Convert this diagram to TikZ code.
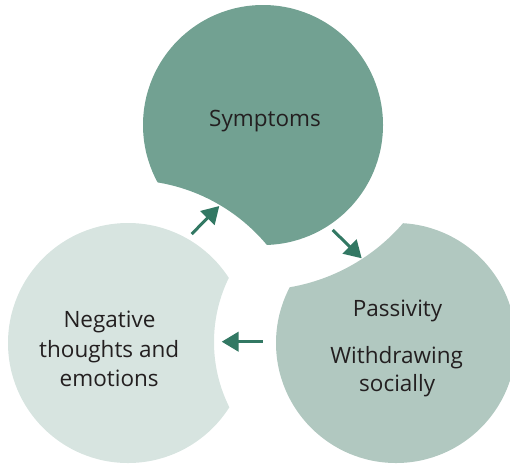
\documentclass[tikz,border=0pt]{standalone}
\usepackage{fontspec}
\setmainfont{Open Sans}
\usetikzlibrary{arrows.meta}
\definecolor{symfill}{HTML}{72A192}
\definecolor{passfill}{HTML}{B1C8C0}
\definecolor{negfill}{HTML}{D7E4E0}
\definecolor{arrowc}{HTML}{327863}
\definecolor{textc}{HTML}{231F20}
\tikzset{
  label/.style={anchor=base, inner sep=0pt, text=textc,
    font=\fontsize{22.5}{28}\selectfont},
  cyclearrow/.style={draw=arrowc, line width=3pt,
    -{Triangle[length=17pt,width=19.5pt]}},
}
\begin{document}
\begin{tikzpicture}[x=1pt,y=-1pt]
\useasboundingbox (0,0) rectangle (510,464);
\clip (0,0) rectangle (510,464);
% circle centres and the larger discs that carve each neighbour
\coordinate (T) at (263,125);
\coordinate (L) at (128,343);
\coordinate (R) at (396,343);
\coordinate (cutT) at (128,361);  % carves the top circle
\coordinate (cutL) at (360,342);  % carves the left circle
\coordinate (cutR) at (257,97);   % carves the right circle
% top circle
\begin{scope}[even odd rule]
  \clip (-20,-20) rectangle (530,484) (cutT) circle (181pt);
  \fill[symfill] (T) circle (120pt);
\end{scope}
% left circle
\begin{scope}[even odd rule]
  \clip (-20,-20) rectangle (530,484) (cutL) circle (146pt);
  \fill[negfill] (L) circle (120pt);
\end{scope}
% right circle
\begin{scope}[even odd rule]
  \clip (-20,-20) rectangle (530,484) (cutR) circle (193pt);
  \fill[passfill] (R) circle (120pt);
\end{scope}
% labels
\node[label] (sym) at (265,126.7) {Symptoms};
\node[label] (neg1) at (109.5,327.7) {Negative};
\node[label] (neg2) at (109.2,357.3) {thoughts and};
\node[label] (neg3) at (109.2,386) {emotions};
\node[label] (pas1) at (397.5,316.7) {Passivity};
\node[label] (pas2) at (396.7,363) {Withdrawing};
\node[label] (pas3) at (397.2,391.7) {socially};
% arrows of the cycle
\coordinate (a1s) at (191.7,234);
\coordinate (a1e) at (219.3,206);
\coordinate (a2s) at (332.7,230);
\coordinate (a2e) at (361.7,258.3);
\coordinate (a3s) at (262.7,341.7);
\coordinate (a3e) at (221.7,341.7);
\draw[cyclearrow] (a1s) -- (a1e);
\draw[cyclearrow] (a2s) -- (a2e);
\draw[cyclearrow] (a3s) -- (a3e);
\end{tikzpicture}
\end{document}
